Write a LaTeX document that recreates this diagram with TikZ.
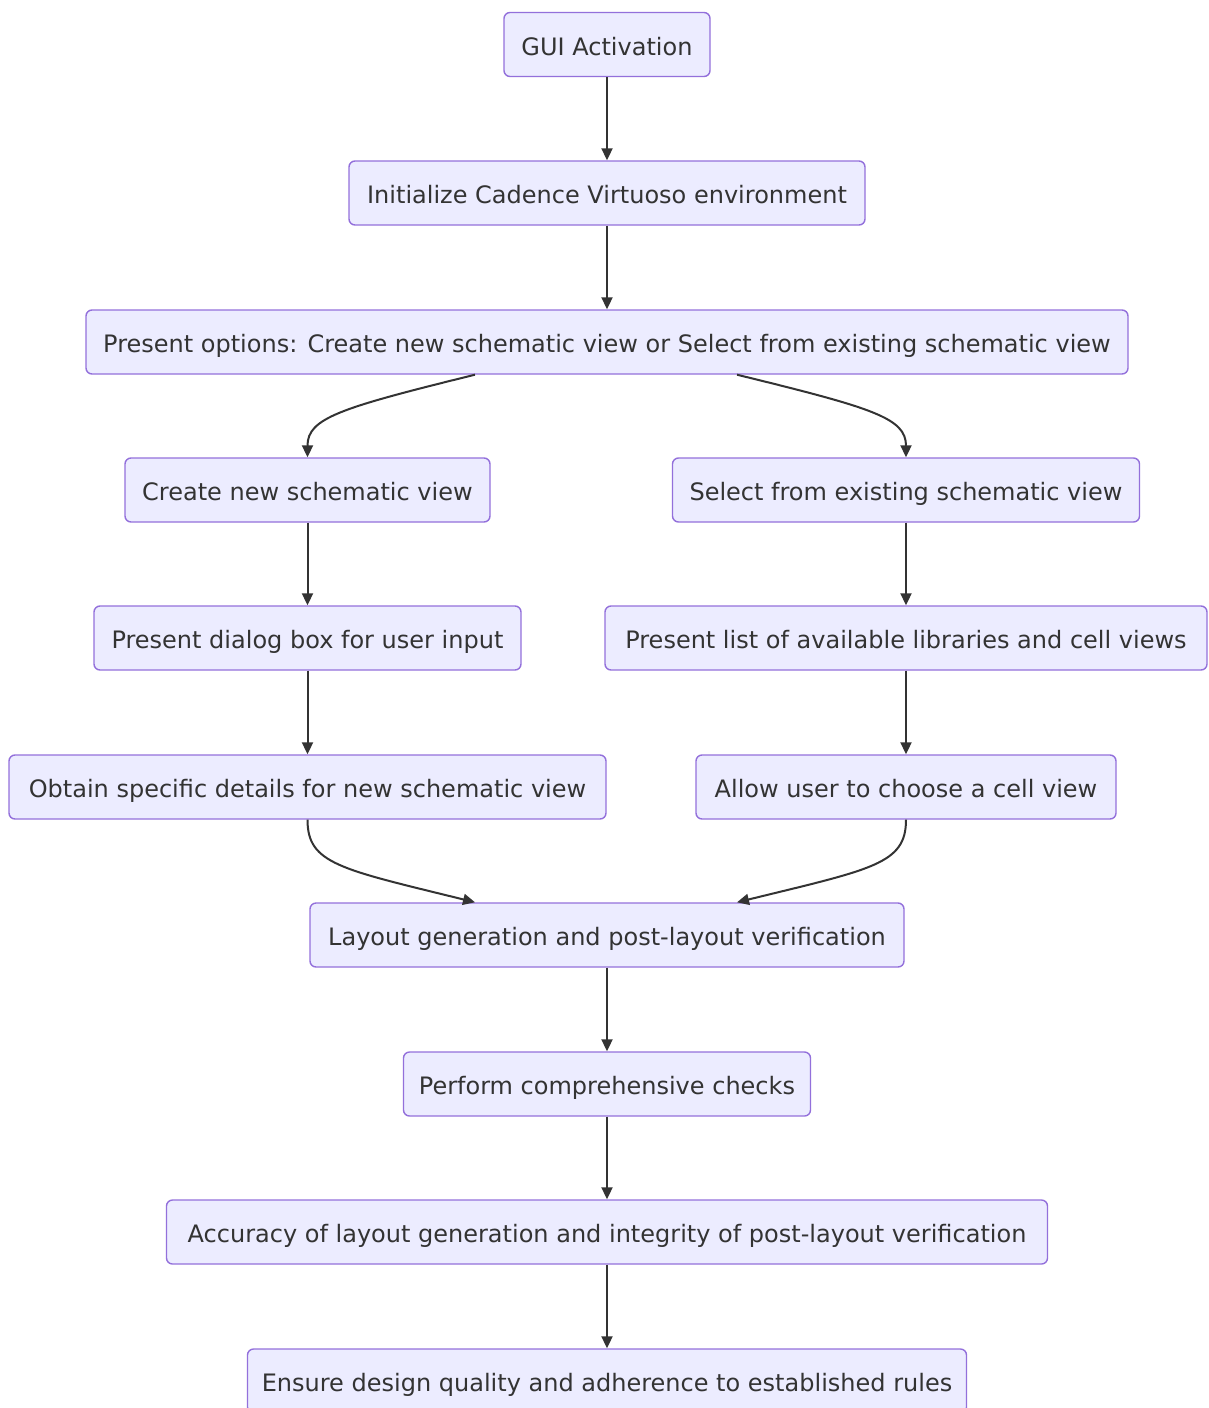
\documentclass[tikz,border=0pt]{standalone}
\usepackage{fontspec}
\setmainfont{DejaVu Sans}
\usetikzlibrary{arrows.meta}
\definecolor{boxfill}{HTML}{ECECFF}
\definecolor{boxline}{HTML}{9370DB}
\definecolor{ink}{HTML}{333333}
\begin{document}
\begin{tikzpicture}[x=1pt,y=-1pt,
  flowbox/.style={draw=boxline, fill=boxfill, line width=1.4pt, rounded corners=6pt,
    text=ink, font=\fontsize{24}{28}\selectfont, minimum height=64pt, inner sep=0pt,
    text height=22pt, text depth=1pt},
  flow/.style={draw=ink, line width=2pt, -{Triangle[length=12pt,width=11pt]}}]
\useasboundingbox (0,0) rectangle (1209,1408);
\clip (0,0) rectangle (1209,1408);

% main column at x=607, branches at x=307.5 and x=906
\node[flowbox, minimum width=206pt] (gui)  at (607,44.5) {GUI Activation};
\node[flowbox, minimum width=516pt] (init) at (607,193) {Initialize Cadence Virtuoso environment};
\node[flowbox, minimum width=1042pt] (opts) at (607,342) {Present options: Create new schematic view or Select from existing schematic view};
\node[flowbox, minimum width=365pt] (newv) at (307.5,490) {Create new schematic view};
\node[flowbox, minimum width=467pt] (selv) at (906,490) {Select from existing schematic view};
\node[flowbox, minimum width=427pt] (dlg)  at (307.5,638) {Present dialog box for user input};
\node[flowbox, minimum width=602pt] (lst)  at (906,638) {Present list of available libraries and cell views};
\node[flowbox, minimum width=597pt] (obt)  at (307.5,787) {Obtain specific details for new schematic view};
\node[flowbox, minimum width=420pt] (cho)  at (906,787) {Allow user to choose a cell view};
\node[flowbox, minimum width=594pt] (lay)  at (607,935) {Layout generation and post-layout verification};
\node[flowbox, minimum width=407pt] (chk)  at (607,1084) {Perform comprehensive checks};
\node[flowbox, minimum width=881pt] (acc)  at (607,1232) {Accuracy of layout generation and integrity of post-layout verification};
\node[flowbox, minimum width=719pt] (ens)  at (607,1381) {Ensure design quality and adherence to established rules};

\draw[flow] (gui) -- (init);
\draw[flow] (init) -- (opts);
\draw[flow] ([xshift=-132pt]opts.south) .. controls (340,408) and (307.5,418) .. (newv.north);
\draw[flow] ([xshift=130pt]opts.south) .. controls (873,408) and (906,418) .. (selv.north);
\draw[flow] (newv) -- (dlg);
\draw[flow] (selv) -- (lst);
\draw[flow] (dlg) -- (obt);
\draw[flow] (lst) -- (cho);
\draw[flow] (obt.south) .. controls (307.5,864) and (340,869) .. ([xshift=-132pt]lay.north);
\draw[flow] (cho.south) .. controls (906,864) and (873,869) .. ([xshift=130pt]lay.north);
\draw[flow] (lay) -- (chk);
\draw[flow] (chk) -- (acc);
\draw[flow] (acc) -- (ens);
\end{tikzpicture}
\end{document}
